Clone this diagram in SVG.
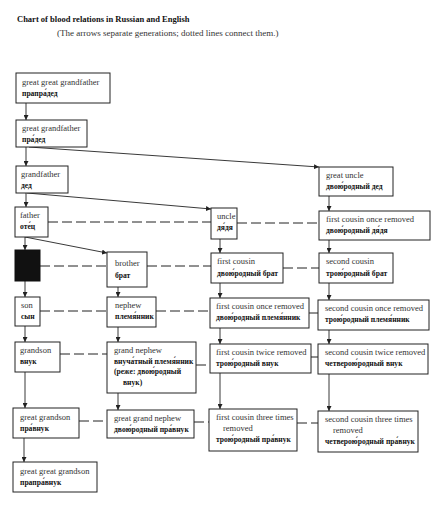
<svg xmlns="http://www.w3.org/2000/svg" width="441" height="508" viewBox="0 0 441 508">
<style>
.b{fill:#fff;stroke:#222;stroke-width:1}
.en{font-family:"Liberation Serif","Times New Roman",serif;font-size:8.5px;fill:#333}
.ru{font-family:"Liberation Serif","Times New Roman",serif;font-size:7.6px;font-weight:bold;fill:#111}
.a{stroke:#222;stroke-width:0.9;fill:none;marker-end:url(#ar)}
.d{stroke:#222;stroke-width:1;fill:none;stroke-dasharray:10,4}
.t{font-family:"Liberation Serif","Times New Roman",serif;font-size:8.5px;font-weight:bold;fill:#111}
.s{font-family:"Liberation Serif","Times New Roman",serif;font-size:9px;fill:#333}
</style>
<defs>
<marker id="ar" viewBox="0 0 8 8" refX="8" refY="4" markerWidth="5" markerHeight="5" orient="auto" markerUnits="userSpaceOnUse">
<path d="M0,0 L8,4 L0,8 z" fill="#222"/>
</marker>
</defs>
<rect width="441" height="508" fill="#fff"/>
<text class="t" x="17" y="22">Chart of blood relations in Russian and English</text>
<text class="s" x="57" y="36">(The arrows separate generations; dotted lines connect them.)</text>

<g id="connectors">
<line class="a" x1="26" y1="103" x2="26" y2="120"/>
<line class="a" x1="26" y1="147" x2="26" y2="166"/>
<line class="a" x1="26" y1="193" x2="26" y2="207"/>
<line class="a" x1="25" y1="237" x2="25" y2="250"/>
<line class="a" x1="25" y1="281" x2="25" y2="297"/>
<line class="a" x1="25" y1="326" x2="25" y2="342"/>
<line class="a" x1="25" y1="372" x2="25" y2="408"/>
<line class="a" x1="24" y1="438" x2="24" y2="462"/>
<line class="a" x1="118" y1="287" x2="118" y2="297"/>
<line class="a" x1="118" y1="327" x2="118" y2="342"/>
<line class="a" x1="118" y1="393" x2="118" y2="410"/>
<line class="a" x1="220" y1="239" x2="220" y2="253"/>
<line class="a" x1="220" y1="283" x2="220" y2="298"/>
<line class="a" x1="220" y1="328" x2="220" y2="344"/>
<line class="a" x1="220" y1="373" x2="220" y2="409"/>
<line class="a" x1="329" y1="196" x2="329" y2="211"/>
<line class="a" x1="329" y1="240" x2="329" y2="253"/>
<line class="a" x1="329" y1="283" x2="329" y2="300"/>
<line class="a" x1="329" y1="330" x2="329" y2="344"/>
<line class="a" x1="329" y1="374" x2="329" y2="411"/>
<line class="a" x1="29" y1="147" x2="319" y2="167"/>
<line class="a" x1="27" y1="193" x2="211" y2="209"/>
<line class="a" x1="25" y1="237" x2="107" y2="253"/>
<line class="d" x1="48" y1="222" x2="211" y2="222"/>
<line class="d" x1="237" y1="223" x2="319" y2="223"/>
<line class="d" x1="40" y1="266" x2="107" y2="266"/>
<line class="d" x1="147" y1="266" x2="211" y2="266"/>
<line class="d" x1="283" y1="268" x2="319" y2="268"/>
<line class="d" x1="40" y1="311" x2="107" y2="311"/>
<line class="d" x1="156" y1="311" x2="210" y2="311"/>
<line class="d" x1="309" y1="313" x2="318" y2="313"/>
<line class="d" x1="60" y1="354" x2="107" y2="354"/>
<line class="d" x1="196" y1="365" x2="210" y2="365"/>
<line class="d" x1="311" y1="357" x2="318" y2="357"/>
<line class="d" x1="79" y1="421" x2="107" y2="421"/>
<line class="d" x1="194" y1="422" x2="209" y2="422"/>
<line class="d" x1="297" y1="423" x2="318" y2="423"/>
</g>

<g id="n-ggf"><rect class="b" x="16" y="73" width="94" height="30"/><text class="en" x="22" y="85">great great grandfather</text><text class="ru" x="22" y="96">прапра́дед</text></g>
<g id="n-gf"><rect class="b" x="16" y="120" width="71" height="27"/><text class="en" x="22" y="131">great grandfather</text><text class="ru" x="22" y="142">пра́дед</text></g>
<g id="n-grandfather"><rect class="b" x="16" y="166" width="52" height="27"/><text class="en" x="21" y="177">grandfather</text><text class="ru" x="21" y="188">дед</text></g>
<g id="n-father"><rect class="b" x="15" y="207" width="33" height="30"/><text class="en" x="20" y="218">father</text><text class="ru" x="20" y="229">оте́ц</text></g>
<g id="n-self"><rect x="15" y="250" width="25" height="31" fill="#111" stroke="#111"/></g>
<g id="n-brother"><rect class="b" x="107" y="252" width="40" height="35"/><text class="en" x="115" y="266">brother</text><text class="ru" x="115" y="278">брат</text></g>
<g id="n-son"><rect class="b" x="15" y="297" width="25" height="29"/><text class="en" x="21" y="308">son</text><text class="ru" x="21" y="319">сын</text></g>
<g id="n-nephew"><rect class="b" x="107" y="297" width="49" height="30"/><text class="en" x="115" y="308">nephew</text><text class="ru" x="115" y="319">племя́нник</text></g>
<g id="n-grandson"><rect class="b" x="15" y="342" width="45" height="30"/><text class="en" x="20" y="353">grandson</text><text class="ru" x="20" y="364">внук</text></g>
<g id="n-grandnephew"><rect class="b" x="107" y="342" width="89" height="51"/><text class="en" x="114" y="353">grand nephew</text><text class="ru" x="114" y="364">внуча́тный племя́нник</text><text class="ru" x="114" y="374">(реже: двою́родный</text><text class="ru" x="123" y="385">внук)</text></g>
<g id="n-ggs"><rect class="b" x="13" y="408" width="66" height="30"/><text class="en" x="20" y="420">great grandson</text><text class="ru" x="20" y="431">пра́внук</text></g>
<g id="n-ggn"><rect class="b" x="107" y="410" width="87" height="28"/><text class="en" x="114" y="421">great grand nephew</text><text class="ru" x="114" y="432">двою́родный пра́внук</text></g>
<g id="n-gggs"><rect class="b" x="13" y="462" width="84" height="30"/><text class="en" x="20" y="474">great great grandson</text><text class="ru" x="20" y="485">прапра́внук</text></g>
<g id="n-greatuncle"><rect class="b" x="319" y="167" width="74" height="29"/><text class="en" x="326" y="178">great uncle</text><text class="ru" x="326" y="189">двою́родный дед</text></g>
<g id="n-uncle"><rect class="b" x="211" y="208" width="26" height="31"/><text class="en" x="217" y="219">uncle</text><text class="ru" x="217" y="230">дя́дя</text></g>
<g id="n-fcor1"><rect class="b" x="319" y="211" width="111" height="29"/><text class="en" x="326" y="222">first cousin once removed</text><text class="ru" x="326" y="233">двою́родный дя́дя</text></g>
<g id="n-fc"><rect class="b" x="211" y="253" width="72" height="30"/><text class="en" x="217" y="264">first cousin</text><text class="ru" x="217" y="276">двою́родный брат</text></g>
<g id="n-sc"><rect class="b" x="319" y="253" width="74" height="30"/><text class="en" x="326" y="264">second cousin</text><text class="ru" x="326" y="276">трою́родный брат</text></g>
<g id="n-fcor2"><rect class="b" x="210" y="298" width="99" height="30"/><text class="en" x="216" y="309">first cousin once removed</text><text class="ru" x="216" y="320">двою́родный племя́нник</text></g>
<g id="n-scor"><rect class="b" x="318" y="300" width="111" height="30"/><text class="en" x="325" y="311">second cousin once removed</text><text class="ru" x="325" y="322">трою́родный племя́нник</text></g>
<g id="n-fctr"><rect class="b" x="210" y="344" width="101" height="29"/><text class="en" x="216" y="355">first cousin twice removed</text><text class="ru" x="216" y="366">трою́родный внук</text></g>
<g id="n-sctr"><rect class="b" x="318" y="344" width="110" height="30"/><text class="en" x="325" y="355">second cousin twice removed</text><text class="ru" x="325" y="366">четверою́родный внук</text></g>
<g id="n-fc3r"><rect class="b" x="209" y="409" width="88" height="42"/><text class="en" x="216" y="420">first cousin three times</text><text class="en" x="223" y="431">removed</text><text class="ru" x="216" y="442">трою́родный пра́внук</text></g>
<g id="n-sc3r"><rect class="b" x="318" y="411" width="100" height="41"/><text class="en" x="325" y="422">second cousin three times</text><text class="en" x="333" y="433">removed</text><text class="ru" x="325" y="444">четверою́родный пра́внук</text></g>
</svg>
